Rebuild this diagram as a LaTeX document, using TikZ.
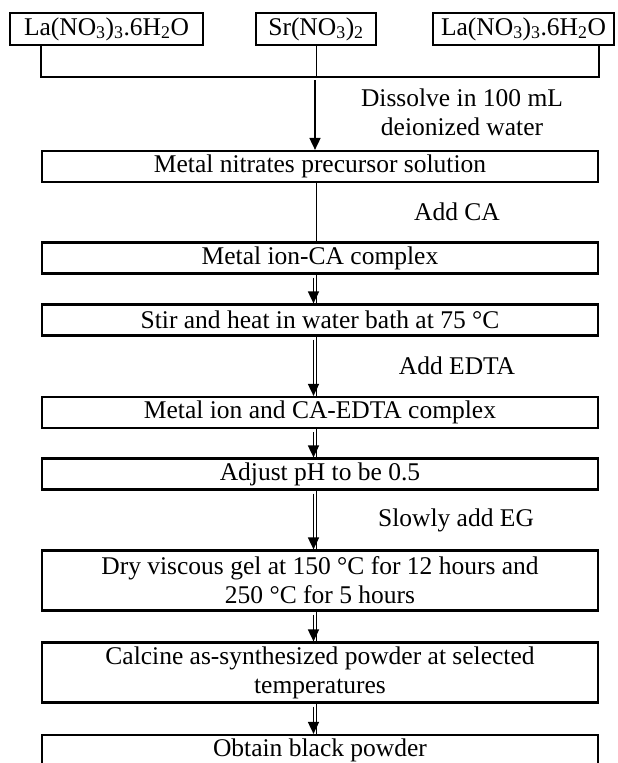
\documentclass[tikz,border=0pt]{standalone}
\usepackage{fontspec}
\setmainfont{Liberation Serif}
\usetikzlibrary{arrows.meta,calc}

\begin{document}
\begin{tikzpicture}[
    x=1pt, y=1pt,
    font=\fontsize{25.5}{29}\selectfont,
    stepbox/.style={draw, line width=2.2pt, minimum height=31pt, inner sep=0pt, align=center},
    mainbox/.style={stepbox, minimum width=556pt},
    note/.style={inner sep=0pt, align=center},
    link/.style={line width=0.8pt},
    flow/.style={line width=1.7pt, -{Triangle[length=12pt,width=11pt]}},
    ]
    \clip (0,0) rectangle (618,-763);
    % starting salts
    \node[stepbox, minimum width=193pt, minimum height=32pt] (la1) at (106.5,-29) {La(NO\textsubscript{3})\textsubscript{3}.6H\textsubscript{2}O};
    \node[stepbox, minimum width=120pt, minimum height=32pt] (sr) at (316,-29) {Sr(NO\textsubscript{3})\textsubscript{2}};
    \node[stepbox, minimum width=181pt, minimum height=32pt] (la2) at (523.5,-29) {La(NO\textsubscript{3})\textsubscript{3}.6H\textsubscript{2}O};
    % process steps
    \node[mainbox] (nitrate) at (320,-166.5) {Metal nitrates precursor solution};
    \node[mainbox] (ionca) at (320,-258) {Metal ion-CA complex};
    \node[mainbox] (stir) at (320,-320) {Stir and heat in water bath at 75 °C};
    \node[mainbox] (edta) at (320,-412.5) {Metal ion and CA-EDTA complex};
    \node[mainbox] (ph) at (320,-474) {Adjust pH to be 0.5};
    \node[mainbox, minimum height=60pt] (gel) at (320,-580.5) {Dry viscous gel at 150 °C for 12 hours and\\250 °C for 5 hours};
    \node[mainbox, minimum height=60pt] (calcine) at (320,-672.5) {Calcine as-synthesized powder at selected\\temperatures};
    \node[mainbox] (powder) at (320,-750.5) {Obtain black powder};
    % side notes
    \node[note] (dissolve) at (462,-112) {Dissolve in 100 mL\\deionized water};
    \node[note] (addca) at (457,-212) {Add CA};
    \node[note] (addedta) at (457,-366) {Add EDTA};
    \node[note] (addeg) at (456,-520) {Slowly add EG};
    % connectors
    \coordinate (join) at (316,-77);
    \draw[line width=2pt] (la1.south -| nitrate.west) |- (join) -| (la2.south -| nitrate.east);
    \draw[link] (sr.south) -- (join);
    \draw[flow] ($(join)+(-1,-3)$) -- ($(join |- nitrate.north)+(-1,0)$);
    \foreach \a/\b in {nitrate/ionca, ionca/stir, stir/edta, edta/ph, ph/gel, gel/calcine, calcine/powder}
      \draw[link] (\a.south -| join) -- (\b.north -| join);
    \foreach \a/\b in {ionca/stir, stir/edta, edta/ph, ph/gel, gel/calcine, calcine/powder}
      \draw[flow] ($(\a.south -| join)+(-2.5,-3)$) -- ($(\b.north -| join)+(-2.5,0)$);
\end{tikzpicture}
\end{document}
